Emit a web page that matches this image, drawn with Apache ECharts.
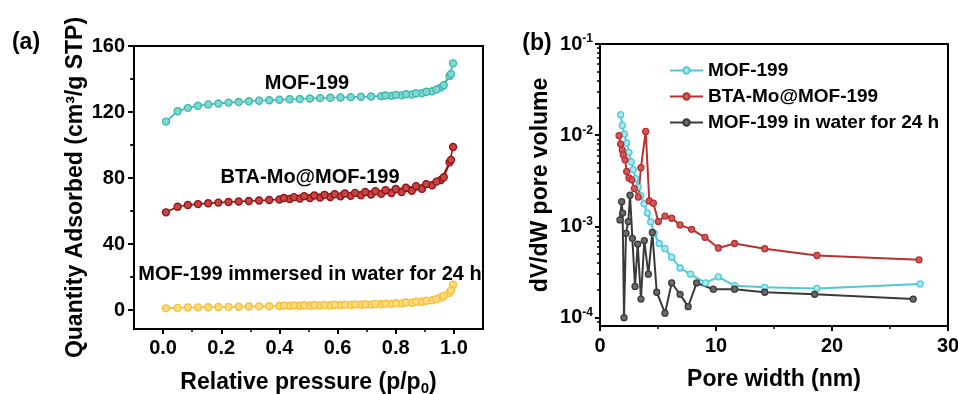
<!DOCTYPE html>
<html>
<head>
<meta charset="utf-8">
<script src="https://cdn.jsdelivr.net/npm/echarts@6/dist/echarts.min.js"></script>
<style>
  html, body { margin: 0; padding: 0; background: #fff; }
  #chart { width: 958px; height: 394px; }
</style>
</head>
<body>
<div id="chart"></div>
<script>
const FONT = '"Liberation Sans", Arial, Helvetica, sans-serif';

// ---- (a) N2 adsorption / desorption isotherms ----
const adsPressure = [0.01, 0.05, 0.085, 0.12, 0.155, 0.19, 0.225, 0.26, 0.295, 0.33, 0.365, 0.40, 0.435, 0.47, 0.505,
  0.54, 0.575, 0.61, 0.645, 0.68, 0.715, 0.75, 0.785, 0.82, 0.855, 0.89, 0.925, 0.955, 0.985, 0.997];
const mofAds = [114.2, 120.5, 122.5, 123.8, 124.6, 125.2, 125.7, 126.1, 126.5, 126.8, 127.1, 127.4, 127.7, 127.9, 128.2,
  128.4, 128.6, 128.8, 129.0, 129.2, 129.4, 129.6, 129.8, 130.1, 130.6, 131.4, 132.6, 134.8, 141.8, 149.5];
const btaAds = [59.2, 62.6, 63.6, 64.2, 64.7, 65.1, 65.5, 65.8, 66.1, 66.4, 66.7, 67.0, 67.3, 67.6, 67.9,
  68.2, 68.5, 68.9, 69.2, 69.6, 70.0, 70.4, 70.9, 71.5, 72.3, 73.4, 75.6, 78.8, 89.5, 98.8];
const waterAds = [1.0, 1.3, 1.5, 1.6, 1.7, 1.8, 1.9, 2.0, 2.1, 2.2, 2.3, 2.4, 2.5, 2.6, 2.7,
  2.8, 2.9, 3.0, 3.1, 3.2, 3.3, 3.5, 3.7, 4.0, 4.4, 5.0, 5.9, 7.6, 10.5, 15.3];

const mofDesPressure = [0.99, 0.965, 0.94, 0.905, 0.87, 0.835, 0.80, 0.765];
const mofDes = [143.0, 136.2, 133.6, 132.3, 131.4, 130.8, 130.4, 130.0];
const desPressure = [0.99, 0.965, 0.94, 0.905, 0.87, 0.835, 0.80, 0.765, 0.73, 0.695, 0.66, 0.625, 0.59,
  0.555, 0.52, 0.485, 0.45, 0.415];
const btaDes = [91.0, 80.5, 77.8, 76.3, 75.1, 74.1, 73.3, 72.6, 72.0, 71.5, 71.0, 70.6, 70.2,
  69.8, 69.4, 69.0, 68.4, 67.9];
const waterDes = [12.0, 8.6, 6.6, 5.6, 5.0, 4.6, 4.2, 3.9, 3.7, 3.5, 3.4, 3.3, 3.2,
  3.1, 3.0, 2.9, 2.8, 2.6];

const pressureTicks = [0, 0.2, 0.4, 0.6, 0.8, 1.0];
const pressureMinor = [0.1, 0.3, 0.5, 0.7, 0.9];
const quantityTicks = [0, 40, 80, 120, 160];
const quantityMinor = [20, 60, 100, 140];
const pressureRange = [-0.1, 1.1];
const quantityRange = [-11.5, 160];

// ---- (b) pore size distribution ----
const mofWidth = [1.78, 1.92, 2.1, 2.3, 2.5, 2.7, 2.87, 3.08, 3.3, 3.53, 3.79, 4.08, 4.37, 4.68, 5.1,
  5.6, 6.18, 6.9, 7.8, 9.1, 10.2, 11.6, 14.2, 18.7, 27.6];
const mofVolume = [0.0168, 0.0128, 0.0103, 0.0082, 0.0065, 0.0051, 0.0042, 0.00335, 0.0027, 0.00218, 0.00177,
  0.0014, 0.00112, 0.00084, 0.00065, 0.00057, 0.00046, 0.00035, 0.0003, 0.00024, 0.00028, 0.000224,
  0.000215, 0.000209, 0.000234];
const btaWidth = [1.64, 1.78, 1.92, 2.0, 2.16, 2.3, 2.5, 2.73, 2.96, 3.3, 3.53, 3.94, 4.25, 4.6, 5.03,
  5.6, 6.18, 6.9, 7.9, 9.05, 10.2, 11.6, 14.2, 18.7, 27.5];
const btaVolume = [0.0099, 0.008, 0.0069, 0.0061, 0.0054, 0.004, 0.0034, 0.00324, 0.0026, 0.0021, 0.0044,
  0.011, 0.0019, 0.0018, 0.00113, 0.0013, 0.00123, 0.00104, 0.00093, 0.00076, 0.00058, 0.00065,
  0.00057, 0.00048, 0.00043];
const waterWidth = [1.72, 1.87, 1.95, 2.07, 2.24, 2.44, 2.59, 2.79, 3.02, 3.25, 3.53, 3.82, 4.17, 4.51,
  4.89, 5.6, 6.18, 6.9, 7.6, 8.33, 9.77, 11.6, 14.2, 18.5, 27.0];
const waterVolume = [0.00118, 0.00187, 0.0014, 0.0001, 0.00084, 0.00113, 0.0022, 0.00074, 0.00022, 0.00064,
  0.00016, 0.0007, 0.0003, 0.00086, 0.00019, 0.000112, 0.00024, 0.00018, 0.000132, 0.00024, 0.000205,
  0.000205, 0.00019, 0.00018, 0.00016];

const volumeTicks = [1e-4, 1e-3, 1e-2, 1e-1];
const volumeMinor = [9e-5, 2e-4, 3e-4, 4e-4, 5e-4, 6e-4, 7e-4, 8e-4, 9e-4,
  2e-3, 3e-3, 4e-3, 5e-3, 6e-3, 7e-3, 8e-3, 9e-3,
  2e-2, 3e-2, 4e-2, 5e-2, 6e-2, 7e-2, 8e-2, 9e-2];

const zip = (xs, ys) => xs.map((x, i) => [x, ys[i]]);

const labelStyle = { fontFamily: FONT, fontWeight: 'bold', fontSize: 20, color: '#000' };
const titleStyle = { fontFamily: FONT, fontWeight: 'bold', fontSize: 23, color: '#000' };
const mainLine = () => ({ show: true, onZero: false, lineStyle: { color: '#000', width: 2 } });
const frame = { show: true, borderColor: '#000', borderWidth: 2, backgroundColor: 'transparent' };
const rectA = { left: 134, top: 46, width: 349, height: 283, outerBoundsMode: 'none', containLabel: false };
const rectB = { left: 600, top: 44, width: 348, height: 282, outerBoundsMode: 'none', containLabel: false };

// axis living in an overlay grid: frame line plus short minor ticks
function minorAxis(gridIndex, min, max, values, position, type) {
  return {
    type: type || 'value', gridIndex, position, min, max,
    axisLine: { show: true, onZero: false, lineStyle: { color: '#000', width: 2 } },
    axisTick: { show: !!values, inside: false, length: 3, customValues: values || undefined, lineStyle: { color: '#000', width: 1.5 } },
    axisLabel: { show: false },
    splitLine: { show: false }
  };
}

function isoSeries(name, xs, ys, line, fill) {
  return {
    name, type: 'line', xAxisIndex: 0, yAxisIndex: 0,
    data: zip(xs, ys),
    symbol: 'circle', symbolSize: 7, showSymbol: true,
    lineStyle: { color: line, width: 1.6 },
    itemStyle: { color: fill, borderColor: line, borderWidth: 1.4 },
    emphasis: { disabled: true }, animation: false
  };
}

function poreSeries(name, xs, ys, line, fill) {
  return {
    name, type: 'line', xAxisIndex: 1, yAxisIndex: 1,
    data: zip(xs, ys),
    symbol: 'circle', symbolSize: 6, showSymbol: true,
    lineStyle: { color: line, width: 2 },
    itemStyle: { color: fill, borderColor: line, borderWidth: 1.3 },
    emphasis: { disabled: true }, animation: false
  };
}

function caption(text, x, y, size) {
  return {
    type: 'text', x, y, z: 20,
    style: { text, font: 'bold ' + size + 'px ' + FONT, fill: '#000',
      textAlign: 'center', textVerticalAlign: 'middle', align: 'center', verticalAlign: 'middle' }
  };
}

const captions = [
  caption('(a)', 26, 43, 23),
  caption('(b)', 537, 44, 23),
  caption('MOF-199', 307, 83, 20),
  caption('BTA-Mo@MOF-199', 310, 177, 20),
  caption('MOF-199 immersed in water for 24 h', 310, 274, 20)
];

// Frame edges and left-axis ticks of panel (a), as filled bars on their own layer
const quantityToY = v => rectA.top + (quantityRange[1] - v) / (quantityRange[1] - quantityRange[0]) * rectA.height;
const bar = (x, y, w, h) => ({
  type: 'rect', zlevel: 1, z: 50, silent: true,
  shape: { x, y, width: w, height: h },
  style: { fill: '#000' }
});
const frameParts = [
  bar(rectA.left - 1, rectA.top - 1, rectA.width + 2, 2),
  bar(rectA.left - 1, rectA.top + rectA.height - 1, rectA.width + 2, 2),
  bar(rectA.left - 1, rectA.top - 1, 2, rectA.height + 2),
  bar(rectA.left + rectA.width - 1, rectA.top - 1, 2, rectA.height + 2)
];
quantityTicks.forEach(v => frameParts.push(bar(rectA.left - 6, quantityToY(v) - 1, 6, 2)));
quantityMinor.forEach(v => frameParts.push(bar(rectA.left - 4, quantityToY(v) - 0.75, 4, 1.5)));

const chart = echarts.init(document.getElementById('chart'), null, { renderer: 'canvas' });

chart.setOption({
  animation: false,
  backgroundColor: '#fff',
  textStyle: { fontFamily: FONT },
  grid: [
    Object.assign({}, frame, rectA),
    Object.assign({}, frame, rectB),
    Object.assign({}, frame, rectA),
    Object.assign({}, frame, rectB)
  ],
  xAxis: [
    {
      type: 'value', gridIndex: 0, position: 'bottom', min: pressureRange[0], max: pressureRange[1],
      axisLine: mainLine(),
      axisTick: { show: true, inside: false, length: 5, customValues: pressureTicks, lineStyle: { color: '#000', width: 2 } },
      axisLabel: Object.assign({ customValues: pressureTicks, margin: 9, formatter: v => v.toFixed(1) }, labelStyle),
      splitLine: { show: false },
      name: '{t|Relative pressure (p/p}{s|0}{t|)}',
      nameLocation: 'middle', nameGap: 41,
      nameTextStyle: {
        rich: {
          t: Object.assign({ lineHeight: 26, verticalAlign: 'middle' }, titleStyle),
          s: Object.assign({}, titleStyle, { fontSize: 15, lineHeight: 26, verticalAlign: 'bottom' })
        }
      }
    },
    {
      type: 'value', gridIndex: 1, position: 'bottom', min: 0, max: 30, interval: 10,
      axisLine: mainLine(),
      axisTick: { show: true, inside: false, length: 5, lineStyle: { color: '#000', width: 2 } },
      minorTick: { show: true, splitNumber: 2, length: 3, lineStyle: { color: '#000', width: 1.5 } },
      axisLabel: Object.assign({ margin: 10 }, labelStyle),
      splitLine: { show: false },
      name: 'Pore width (nm)', nameLocation: 'middle', nameGap: 42,
      nameTextStyle: titleStyle
    },
    minorAxis(2, pressureRange[0], pressureRange[1], pressureMinor, 'bottom'),
    minorAxis(3, 0, 30, null, 'bottom')
  ],
  yAxis: [
    {
      type: 'value', gridIndex: 0, position: 'left', min: quantityRange[0], max: quantityRange[1],
      axisLine: mainLine(),
      axisTick: { show: true, inside: false, length: 5, customValues: quantityTicks, lineStyle: { color: '#000', width: 2 } },
      axisLabel: Object.assign({ customValues: quantityTicks, margin: 9 }, labelStyle),
      splitLine: { show: false },
      name: 'Quantity Adsorbed (cm³/g STP)', nameLocation: 'middle', nameGap: 47,
      nameTextStyle: titleStyle
    },
    {
      type: 'log', logBase: 10, gridIndex: 1, position: 'left', min: 8.1e-5, max: 0.1,
      axisLine: mainLine(),
      axisTick: { show: true, inside: false, length: 5, customValues: volumeTicks, lineStyle: { color: '#000', width: 2 } },
      axisLabel: {
        customValues: volumeTicks, margin: 7,
        formatter: v => '{b|10}{s|' + Math.round(Math.log10(v)) + '}',
        rich: {
          b: Object.assign({}, labelStyle, { fontSize: 20 }),
          s: Object.assign({}, labelStyle, { fontSize: 12, padding: [0, 0, 10, 0] })
        }
      },
      splitLine: { show: false },
      name: 'dV/dW pore volume', nameLocation: 'middle', nameGap: 48,
      nameTextStyle: titleStyle
    },
    minorAxis(2, quantityRange[0], quantityRange[1], quantityMinor, 'left'),
    minorAxis(3, 8.1e-5, 0.1, volumeMinor, 'left', 'log')
  ],
  legend: {
    data: ['MOF-199', 'BTA-Mo@MOF-199', 'MOF-199 in water for 24 h'],
    orient: 'vertical', left: 664, top: 56,
    itemWidth: 33, itemHeight: 8, itemGap: 7,
    textStyle: { fontFamily: FONT, fontWeight: 'bold', fontSize: 19, color: '#000' }
  },
  graphic: captions.concat(frameParts),
  series: [
    isoSeries('MOF-199 adsorption', adsPressure, mofAds, '#3cb8b0', '#7fd8d0'),
    isoSeries('MOF-199 desorption', mofDesPressure, mofDes, '#3cb8b0', '#7fd8d0'),
    isoSeries('BTA-Mo@MOF-199 adsorption', adsPressure, btaAds, '#9a1010', '#c04848'),
    isoSeries('BTA-Mo@MOF-199 desorption', desPressure, btaDes, '#9a1010', '#c04848'),
    isoSeries('Immersed adsorption', adsPressure, waterAds, '#f7bd35', '#ffdc80'),
    isoSeries('Immersed desorption', desPressure, waterDes, '#f7bd35', '#ffdc80'),
    poreSeries('MOF-199', mofWidth, mofVolume, '#4fc8d8', '#a9e8ef'),
    poreSeries('BTA-Mo@MOF-199', btaWidth, btaVolume, '#b83030', '#d05a5a'),
    poreSeries('MOF-199 in water for 24 h', waterWidth, waterVolume, '#3a3a3a', '#6a6a6a')
  ]
});
</script>
</body>
</html>
